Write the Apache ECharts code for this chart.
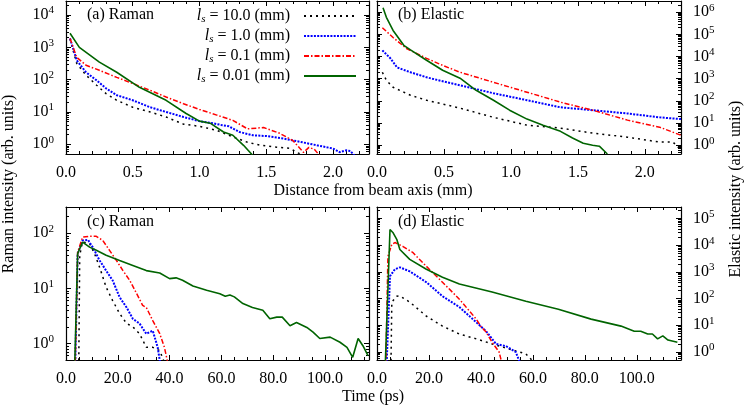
<!DOCTYPE html>
<html><head><meta charset="utf-8">
<script src="https://cdn.jsdelivr.net/npm/echarts@6.0.0/dist/echarts.min.js"></script>
<style>html,body{margin:0;padding:0;background:#fff}#c{width:747px;height:405px}</style>
</head><body><div id="c"></div><script>
// ---------- DATA ----------
const seriesKeys = ['ls10', 'ls1', 'ls01', 'ls001'];
const lsLabels = ['10.0', '1.0', '0.1', '0.01'];
const panelTitles = ['(a) Raman', '(b) Elastic', '(c) Raman', '(d) Elastic'];
const distTicks = [0.0, 0.5, 1.0, 1.5, 2.0];
const timeTicks = [0, 20, 40, 60, 80, 100];

// (a) Raman intensity vs distance from beam axis (mm)
const ramanDist_ls10 = [[0.03,1800],[0.08,320],[0.15,138],[0.23,67],[0.3,37],[0.38,23],[0.5,14],[0.63,10],[0.75,7],[0.88,4.2],[1.0,3.6],[1.13,2.7],[1.25,1.7],[1.36,1.15],[1.46,0.93],[1.58,0.81],[1.68,0.75],[1.73,0.56],[1.78,0.45]];
const ramanDist_ls1 = [[0.03,1900],[0.08,400],[0.15,170],[0.23,95],[0.3,54],[0.38,33],[0.5,23],[0.63,14],[0.75,10],[0.88,7],[1.0,5.2],[1.1,4.5],[1.17,3.9],[1.22,3.6],[1.3,2.4],[1.4,1.9],[1.5,1.8],[1.63,1.5],[1.75,1.2],[1.88,0.93],[2.0,0.74],[2.05,0.57],[2.1,0.65],[2.13,0.62],[2.16,0.45]];
const ramanDist_ls01 = [[0.03,1900],[0.08,490],[0.15,280],[0.25,195],[0.38,118],[0.5,76],[0.63,47],[0.75,29],[0.88,18],[1.0,12],[1.13,8],[1.25,5.5],[1.36,3.0],[1.48,3.3],[1.6,2.2],[1.7,1.3],[1.78,0.56],[1.82,0.8],[1.86,0.7],[1.9,0.45]];
const ramanDist_ls001 = [[0.03,2750],[0.1,1000],[0.25,350],[0.38,170],[0.55,58],[0.75,23],[0.9,9],[1.0,5.2],[1.08,4.5],[1.18,2.4],[1.25,1.9],[1.33,0.93],[1.40,0.45]];

// (b) Elastic intensity vs distance from beam axis (mm)
const elasticDist_ls10 = [[0.04,1950],[0.07,850],[0.12,410],[0.25,178],[0.37,107],[0.62,47],[0.87,18],[1.12,8],[1.37,5.9],[1.61,3.5],[1.87,2.3],[2.11,1.38],[2.21,1.38],[2.25,0.8],[2.27,0.5]];
const elasticDist_ls1 = [[0.04,19000],[0.1,8300],[0.15,3200],[0.25,1950],[0.37,1150],[0.62,500],[0.87,220],[1.12,107],[1.37,51],[1.61,38],[1.87,27],[2.11,18],[2.27,15]];
const elasticDist_ls01 = [[0.04,200000],[0.12,72000],[0.22,23000],[0.37,8300],[0.49,4000],[0.62,1950],[0.87,690],[1.12,245],[1.37,87],[1.61,38],[1.87,13.5],[2.11,6.5],[2.27,2.8]];
const elasticDist_ls001 = [[0.045,1600000],[0.07,590000],[0.12,150000],[0.2,32000],[0.25,20000],[0.37,6800],[0.49,2400],[0.62,1050],[0.74,300],[0.87,107],[0.99,38],[1.12,15],[1.24,8],[1.37,4.2],[1.46,2.1],[1.54,1.23],[1.61,1.0],[1.66,0.9],[1.72,0.4]];

// (c) Raman intensity vs time (ps)
const ramanTime_ls10 = [[4.9,0.3],[5.3,40],[6.4,70],[9.1,65],[11,43],[13,24],[15.5,10.5],[18,6],[20.7,3.5],[23.4,2.3],[25.8,2.0],[28.4,1.5],[31,0.85],[33.5,0.85],[36.2,0.74],[38,0.45]];
const ramanTime_ls1 = [[3.5,0.3],[4.5,43],[6.4,74],[8.5,76],[10.3,56],[13,32],[15.5,21],[18,14],[20.7,6.9],[23.4,4.5],[25.8,2.8],[28.4,2.3],[31,1.5],[33.5,1.7],[35.4,0.85],[36.5,0.4]];
const ramanTime_ls01 = [[3.5,0.3],[4.5,45],[6.4,85],[9.1,88],[11.7,88],[14.2,74],[16.8,49],[19.5,32],[22,21],[24.6,14],[27.3,8],[29.6,4.9],[31,4.5],[33.5,2.6],[36.2,1.5],[38,0.85],[39.5,0.4]];
const ramanTime_ls001 = [[3.3,0.3],[4.5,43],[6.4,69],[9.1,56],[11.7,49],[15.5,40],[20.7,32],[25.8,26],[31,21],[36.2,19],[40,15],[42.5,15.5],[45,14],[49,11],[54.3,9.2],[59.4,8],[61.5,7.2],[63.3,7.6],[65,7],[68.3,5.3],[72,4.5],[76,4.0],[78.7,2.8],[81.4,3.0],[83.5,3.0],[86.5,2.1],[89,2.4],[93,1.95],[95.4,1.6],[98,1.23],[102,1.3],[105.8,1.05],[108.5,0.85],[110.7,0.56],[112.8,1.23],[114.7,0.9],[116.6,0.6]];

// (d) Elastic intensity vs time (ps)
const elasticTime_ls10 = [[5.3,0.1],[5.7,74],[7.6,123],[8.8,126],[12.6,74],[19,22],[25.2,9.3],[31.7,4.7],[38.2,3.1],[44.3,2.0],[50.8,1.3],[57.3,0.85],[60,0.45]];
const elasticTime_ls1 = [[3.5,0.1],[5,690],[6.9,1260],[8.8,1480],[12.6,1050],[19,410],[25.2,123],[31.7,48],[38.2,13],[42,6],[45.8,2],[49.6,1.66],[53.4,1.0],[55,0.4]];
const elasticTime_ls01 = [[3.3,0.1],[4.2,3800],[5.7,10700],[6.9,12600],[9.9,9100],[13.7,5400],[19,1620],[25.2,410],[31.7,95],[38.2,17],[40,9],[42,5.6],[44.3,2.3],[47,1.0],[48,0.4]];
const elasticTime_ls001 = [[3,0.1],[5,39000],[6.1,30000],[7.6,16600],[8.8,6900],[12.6,2950],[19,1260],[25.2,630],[31.7,350],[44.3,175],[57.3,80],[69.8,40],[82.4,17],[93.9,9.3],[99,6],[101.5,6],[104.2,4.7],[106,4.7],[108,3.1],[110,4],[112,2.8],[115.6,2.3]];

const panelData = [
  [ramanDist_ls10, ramanDist_ls1, ramanDist_ls01, ramanDist_ls001],
  [elasticDist_ls10, elasticDist_ls1, elasticDist_ls01, elasticDist_ls001],
  [ramanTime_ls10, ramanTime_ls1, ramanTime_ls01, ramanTime_ls001],
  [elasticTime_ls10, elasticTime_ls1, elasticTime_ls01, elasticTime_ls001]
];

// ---------- STYLE / LAYOUT ----------
const FONT = 'Liberation Serif';
const styles = [
  {color:'#000000', width:1.5, type:[2,4]},
  {color:'#0000ff', width:2, type:[2,1.3]},
  {color:'#ff0000', width:1.5, type:[5,2,1.5,2]},
  {color:'#006400', width:1.6, type:'solid'}
];
const grids = [
  {left:66, top:1, width:303, height:153},
  {left:377, top:1, width:304, height:153},
  {left:66, top:207, width:303, height:153},
  {left:377, top:207, width:304, height:153}
];
const xRanges = [
  {max:2.27, interval:0.5, minor:5, ticks:distTicks},
  {max:2.27, interval:0.5, minor:5, ticks:distTicks},
  {max:117, interval:20, minor:4, ticks:timeTicks},
  {max:117, interval:20, minor:4, ticks:timeTicks}
];
const yRanges = [
  {min:0.5, max:27300, labelSide:'left'},
  {min:0.4, max:3.2e6, labelSide:'right'},
  {min:0.5, max:300, labelSide:'left'},
  {min:0.5, max:2.7e5, labelSide:'right'}
];

const lineCol = '#000';
const axisLine = {onZero:false, lineStyle:{color:lineCol, width:1.2}};
const axisTick = {inside:true, length:5, lineStyle:{color:lineCol, width:1}};
const minorTickX = (n) => ({show:true, splitNumber:n, length:3, lineStyle:{color:lineCol, width:1}});

const xAxis = [], yAxis = [];
grids.forEach((g, gi) => {
  const xr = xRanges[gi];
  const base = {type:'value', gridIndex:gi, min:0, max:xr.max, interval:xr.interval,
    axisLine, axisTick, minorTick:minorTickX(xr.minor), splitLine:{show:false}};
  xAxis.push(Object.assign({}, base, {position:'bottom', axisLabel:{
    margin:11, color:'#000', fontFamily:FONT, fontSize:16,
    formatter: v => xr.ticks.some(t => Math.abs(t - v) < 1e-9) ? v.toFixed(1) : ''
  }}));
  xAxis.push(Object.assign({}, base, {position:'top', axisLabel:{show:false}}));
  const yr = yRanges[gi];
  ['left','right'].forEach(side => {
    yAxis.push({type:'log', logBase:10, gridIndex:gi, min:yr.min, max:yr.max, position:side,
      axisLine, axisTick, splitLine:{show:false},
      minorTick:{show:true, splitNumber:9, length:3, lineStyle:{color:lineCol, width:1}},
      axisLabel: side === yr.labelSide ? {
        margin:12, color:'#000', fontFamily:FONT, fontSize:16,
        formatter: v => {
          const e = Math.log10(v), r = Math.round(e);
          if (Math.abs(e - r) > 1e-6) return '';
          return '{b|10}{s|' + r + '}';
        },
        rich:{
          b:{fontFamily:FONT, fontSize:16, color:'#000'},
          s:{fontFamily:FONT, fontSize:11, color:'#000', padding:[0,0,9,0]}
        }
      } : {show:false}
    });
  });
});

const yIdxForPanel = [0, 3, 4, 7];
const series = [];
panelData.forEach((arr, p) => {
  arr.forEach((data, k) => {
    series.push({
      name: seriesKeys[k], type:'line', xAxisIndex:2*p, yAxisIndex:yIdxForPanel[p],
      data, symbol:'none', showSymbol:false, clip:true, smooth:false,
      lineStyle: Object.assign({}, styles[k]), itemStyle:{color:styles[k].color},
      emphasis:{disabled:true}, z: 2 + (k === 3 ? 1 : 0)
    });
  });
});

const legend = seriesKeys.map((k, i) => ({
  data:[k], orient:'vertical', right:390, top:17 + 20*i - 9, padding:0, itemGap:0,
  align:'right', itemWidth:52, itemHeight:12, selectedMode:false,
  itemStyle:{opacity:0, borderWidth:0},
  formatter: () => '{i|l}{sub|s}{t| = ' + lsLabels[i] + ' (mm)}',
  textStyle:{color:'#000', fontFamily:FONT, fontSize:16, rich:{
    i:{fontFamily:FONT, fontSize:16, fontStyle:'italic', color:'#000'},
    sub:{fontFamily:FONT, fontSize:11, fontStyle:'italic', color:'#000', padding:[7,0,0,0]},
    t:{fontFamily:FONT, fontSize:16, color:'#000', padding:[0,9,0,0]}
  }}
}));

const titlePos = [{left:87, top:7}, {left:398, top:7}, {left:87, top:214}, {left:398, top:214}];
const title = panelTitles.map((t, i) => Object.assign({text:t, padding:0,
  textStyle:{fontFamily:FONT, fontSize:16, fontWeight:'normal', color:'#000'}}, titlePos[i]));

const txt = (text, x, y, rot) => ({type:'text', x, y, rotation:rot || 0, silent:true,
  style:{text, fill:'#000', font:'16px "' + FONT + '"', align:'center', verticalAlign:'middle'}});
const graphic = [
  txt('Distance from beam axis (mm)', 373, 190.5),
  txt('Time (ps)', 373, 397),
  txt('Raman intensity (arb. units)', 9, 184, Math.PI/2),
  txt('Elastic intensity (arb. units)', 736, 189, Math.PI/2)
];

const chart = echarts.init(document.getElementById('c'), null, {renderer:'canvas'});
chart.setOption({
  animation:false, backgroundColor:'#fff',
  title, legend, grid:grids, xAxis, yAxis, series, graphic
});
</script></body></html>
